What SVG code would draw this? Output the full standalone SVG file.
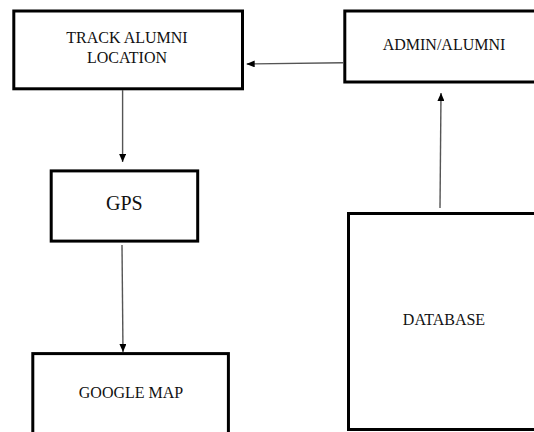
<svg xmlns="http://www.w3.org/2000/svg" width="534" height="432" viewBox="0 0 534 432">
  <defs>
    <style>
      .box { fill: #ffffff; stroke: #000000; stroke-width: 3; }
      .lbl { font-family: "Liberation Serif", "Times New Roman", serif; font-size: 16px; fill: #111111; text-anchor: middle; }
      .big { font-size: 20px; }
      .conn { stroke: #555555; stroke-width: 1.4; fill: none; marker-end: url(#arrow); }
    </style>
    <marker id="arrow" viewBox="0 0 8 7" refX="8" refY="3.5" markerWidth="8" markerHeight="7" markerUnits="userSpaceOnUse" orient="auto">
      <path d="M0,0 L8,3.5 L0,7 Z" fill="#000000"/>
    </marker>
  </defs>
  <rect width="534" height="432" fill="#ffffff"/>
  <g id="track">
    <rect class="box" x="13.8" y="11" width="228.7" height="77.8"/>
    <text class="lbl" x="127" y="43.3">TRACK ALUMNI</text>
    <text class="lbl" x="127" y="63.3">LOCATION</text>
  </g>
  <g id="admin">
    <rect class="box" x="344.8" y="11" width="200" height="71"/>
    <text class="lbl" x="444" y="50">ADMIN/ALUMNI</text>
  </g>
  <g id="gps">
    <rect class="box" x="51.2" y="170.9" width="146.5" height="70.2"/>
    <text class="lbl big" x="124.3" y="210">GPS</text>
  </g>
  <g id="googlemap">
    <rect class="box" x="32.8" y="353.6" width="195.6" height="100"/>
    <text class="lbl" x="131" y="398.3">GOOGLE MAP</text>
  </g>
  <g id="database">
    <rect class="box" x="348.5" y="213.5" width="200" height="216"/>
    <text class="lbl" x="444" y="325">DATABASE</text>
  </g>
  <g id="connectors">
    <line class="conn" x1="343" y1="62.7" x2="246.7" y2="64"/>
    <line class="conn" x1="122.6" y1="90" x2="122.6" y2="162"/>
    <line class="conn" x1="122" y1="245" x2="123" y2="352"/>
    <line class="conn" x1="440" y1="208" x2="441" y2="93"/>
  </g>
</svg>
